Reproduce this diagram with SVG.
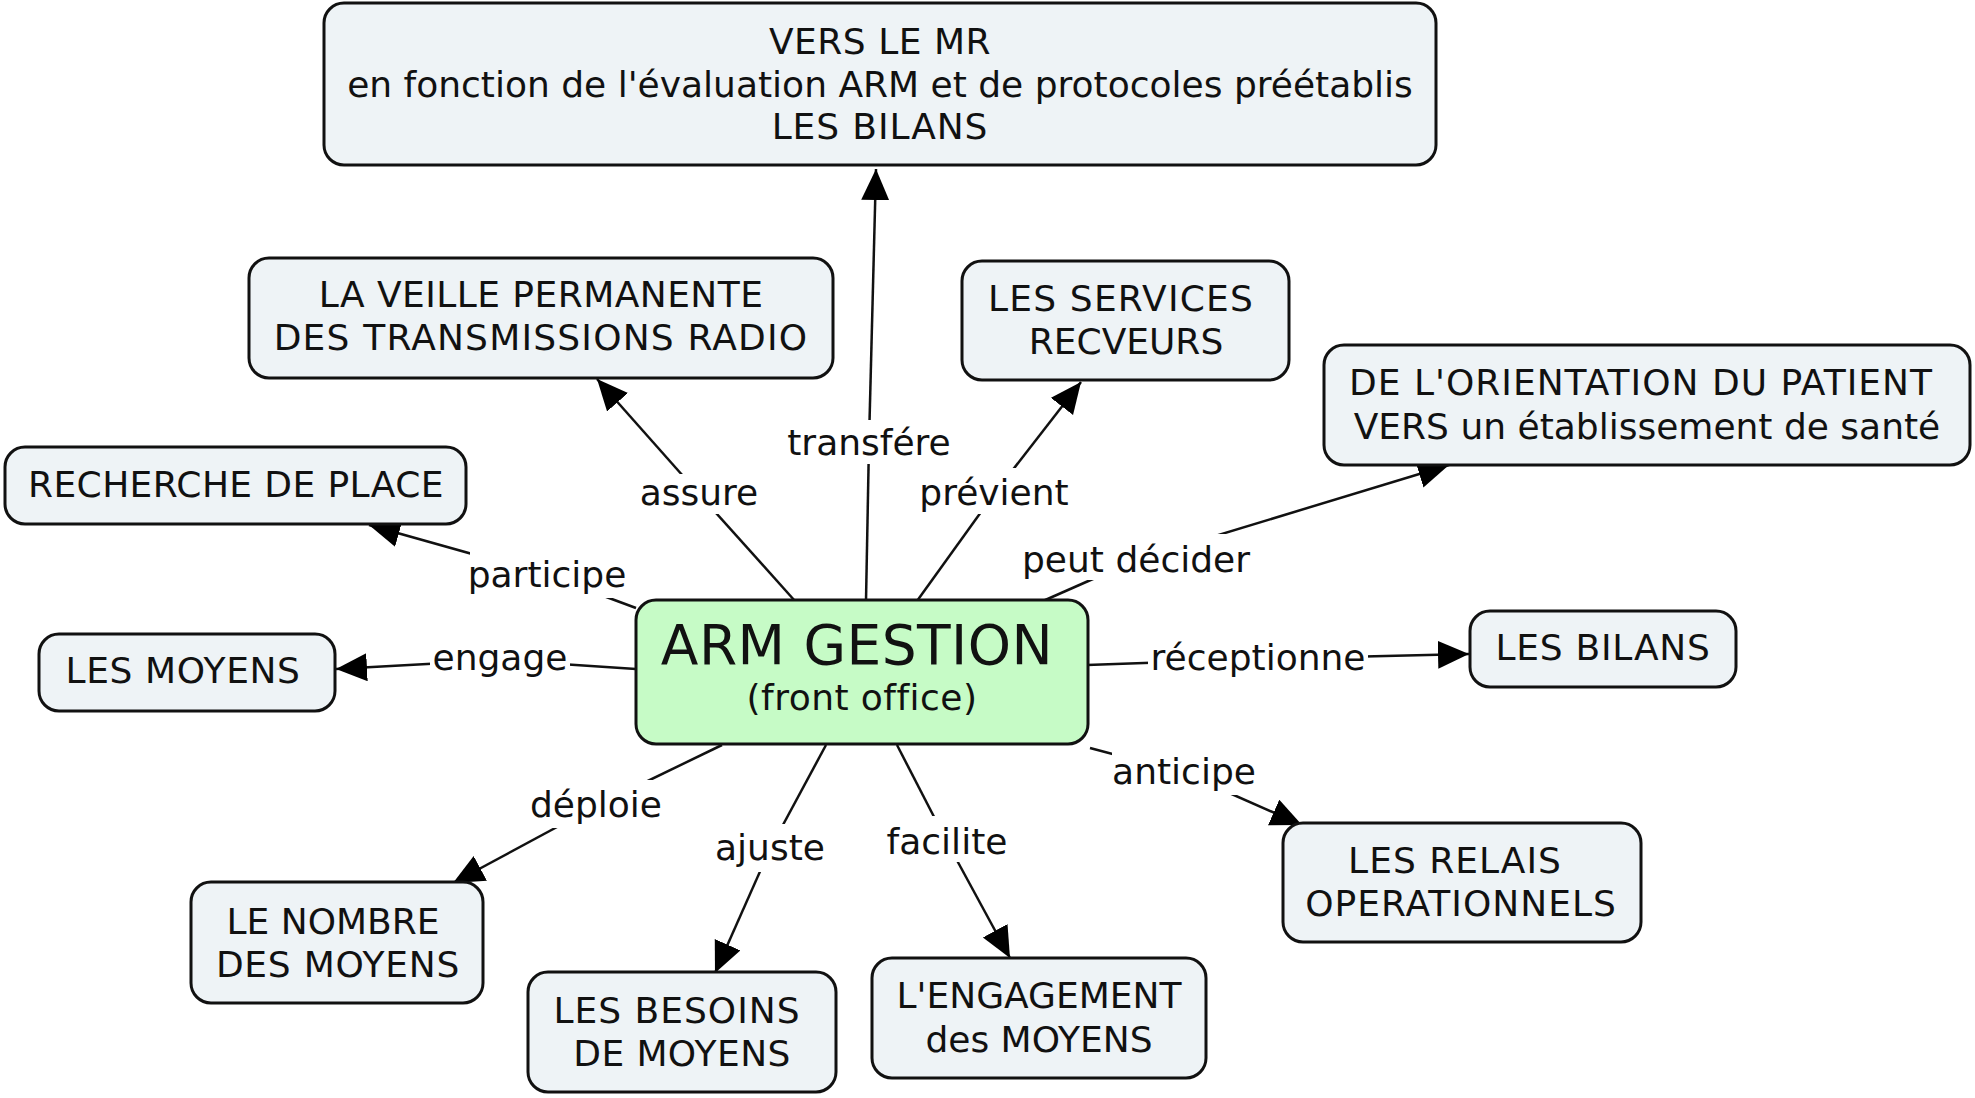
<svg xmlns="http://www.w3.org/2000/svg" width="1975" height="1098" viewBox="0 0 1975 1098">
<defs>
<marker id="arr" markerUnits="userSpaceOnUse" markerWidth="34" markerHeight="30" refX="31" refY="14" orient="auto">
<path d="M0,0 L31,14 L0,28 z" fill="#000"/>
</marker>
<style>
.node rect{fill:#eef3f6;stroke:#111;stroke-width:3}
.main rect{fill:#c6fbc6;stroke:#111;stroke-width:3}
text{font-family:"DejaVu Sans","Noto Sans",sans-serif;font-size:36px;fill:#111;text-anchor:middle}
.seg{stroke:#111;stroke-width:2.5;fill:none}
.arrow{marker-end:url(#arr)}
.lbg{fill:#fff}
</style>
</defs>
<rect width="1975" height="1098" fill="#fff"/>
<g id="connectors">
<!-- transfére -->
<line class="seg" x1="866" y1="601" x2="869" y2="442"/>
<line class="seg arrow" x1="869" y1="442" x2="876" y2="169"/>
<!-- assure -->
<line class="seg" x1="795" y1="601" x2="699" y2="494"/>
<line class="seg arrow" x1="699" y1="494" x2="597" y2="379"/>
<!-- prévient -->
<line class="seg" x1="917" y1="601" x2="994" y2="494"/>
<line class="seg arrow" x1="994" y1="494" x2="1081" y2="382"/>
<!-- peut décider -->
<line class="seg" x1="1043" y1="601" x2="1136" y2="560"/>
<line class="seg arrow" x1="1136" y1="560" x2="1449" y2="465"/>
<!-- participe -->
<line class="seg" x1="636" y1="608" x2="547" y2="575"/>
<line class="seg arrow" x1="547" y1="575" x2="369" y2="525"/>
<!-- engage -->
<line class="seg" x1="636" y1="669" x2="500" y2="660"/>
<line class="seg arrow" x1="500" y1="660" x2="336" y2="669"/>
<!-- réceptionne -->
<line class="seg" x1="1087" y1="665" x2="1258" y2="659"/>
<line class="seg arrow" x1="1258" y1="659" x2="1469" y2="654"/>
<!-- anticipe -->
<line class="seg" x1="1090" y1="748" x2="1184" y2="773"/>
<line class="seg arrow" x1="1184" y1="773" x2="1302" y2="825"/>
<!-- déploie -->
<line class="seg" x1="722" y1="745" x2="596" y2="806"/>
<line class="seg arrow" x1="596" y1="806" x2="453" y2="883"/>
<!-- ajuste -->
<line class="seg" x1="826" y1="745" x2="770" y2="849"/>
<line class="seg arrow" x1="770" y1="849" x2="715" y2="973"/>
<!-- facilite -->
<line class="seg" x1="897" y1="745" x2="947" y2="842"/>
<line class="seg arrow" x1="947" y1="842" x2="1010" y2="958"/>
<!-- labels -->
<g id="labels">
<rect class="lbg" x="786" y="420" width="166" height="44"/><text x="869" y="455">transfére</text>
<rect class="lbg" x="640" y="474" width="118" height="40"/><text x="699" y="505">assure</text>
<rect class="lbg" x="917" y="468" width="154" height="46"/><text x="994" y="505">prévient</text>
<rect class="lbg" x="1025" y="534" width="222" height="46"/><text x="1136" y="572">peut décider</text>
<rect class="lbg" x="470" y="550" width="154" height="48"/><text x="547" y="587">participe</text>
<rect class="lbg" x="430" y="634" width="140" height="46"/><text x="500" y="670">engage</text>
<rect class="lbg" x="1148" y="632" width="220" height="48"/><text x="1258" y="670">réceptionne</text>
<rect class="lbg" x="1112" y="747" width="144" height="48"/><text x="1184" y="784">anticipe</text>
<rect class="lbg" x="530" y="780" width="132" height="48"/><text x="596" y="817">déploie</text>
<rect class="lbg" x="715" y="824" width="110" height="48"/><text x="770" y="860">ajuste</text>
<rect class="lbg" x="888" y="816" width="118" height="46"/><text x="947" y="854">facilite</text>
</g>
</g>
<g id="n-top" class="node"><rect x="324" y="3" width="1112" height="162" rx="20"/>
<text x="880" y="54" style="letter-spacing:0.5px">VERS LE MR</text>
<text x="880" y="97">en fonction de l'évaluation ARM et de protocoles préétablis</text>
<text x="880" y="139" style="letter-spacing:0.9px">LES BILANS</text></g>
<g id="n-veille" class="node"><rect x="249" y="258" width="584" height="120" rx="20"/>
<text x="541" y="307" style="letter-spacing:0.45px">LA VEILLE PERMANENTE</text>
<text x="541" y="350" style="letter-spacing:1.2px">DES TRANSMISSIONS RADIO</text></g>
<g id="n-services" class="node"><rect x="962" y="261" width="327" height="119" rx="20"/>
<text x="1121" y="311" style="letter-spacing:1.2px">LES SERVICES</text>
<text x="1126" y="354">RECVEURS</text></g>
<g id="n-orientation" class="node"><rect x="1324" y="345" width="646" height="120" rx="20"/>
<text x="1641" y="395" style="letter-spacing:1px">DE L'ORIENTATION DU PATIENT</text>
<text x="1647" y="439">VERS un établissement de santé</text></g>
<g id="n-recherche" class="node"><rect x="5" y="447" width="461" height="77" rx="20"/>
<text x="236" y="497" style="letter-spacing:0.4px">RECHERCHE DE PLACE</text></g>
<g id="n-moyens" class="node"><rect x="39" y="634" width="296" height="77" rx="20"/>
<text x="183" y="683" style="letter-spacing:0.6px">LES MOYENS</text></g>
<g id="n-arm" class="main"><rect x="636" y="600" width="452" height="144" rx="20"/>
<text x="857" y="664" style="font-size:55px;letter-spacing:0.45px">ARM GESTION</text>
<text x="862" y="710" style="letter-spacing:0.45px">(front office)</text></g>
<g id="n-bilans" class="node"><rect x="1470" y="611" width="266" height="76" rx="20"/>
<text x="1603" y="660" style="letter-spacing:0.75px">LES BILANS</text></g>
<g id="n-relais" class="node"><rect x="1283" y="823" width="358" height="119" rx="20"/>
<text x="1455" y="873" style="letter-spacing:1px">LES RELAIS</text>
<text x="1461" y="916" style="letter-spacing:1px">OPERATIONNELS</text></g>
<g id="n-nombre" class="node"><rect x="191" y="882" width="292" height="121" rx="20"/>
<text x="333" y="934">LE NOMBRE</text>
<text x="338" y="977" style="letter-spacing:0.75px">DES MOYENS</text></g>
<g id="n-besoins" class="node"><rect x="528" y="972" width="308" height="120" rx="20"/>
<text x="677" y="1023" style="letter-spacing:1px">LES BESOINS</text>
<text x="682" y="1066" style="letter-spacing:0.4px">DE MOYENS</text></g>
<g id="n-engagement" class="node"><rect x="872" y="958" width="334" height="120" rx="20"/>
<text x="1039" y="1008">L'ENGAGEMENT</text>
<text x="1039" y="1052">des MOYENS</text></g>
</svg>
